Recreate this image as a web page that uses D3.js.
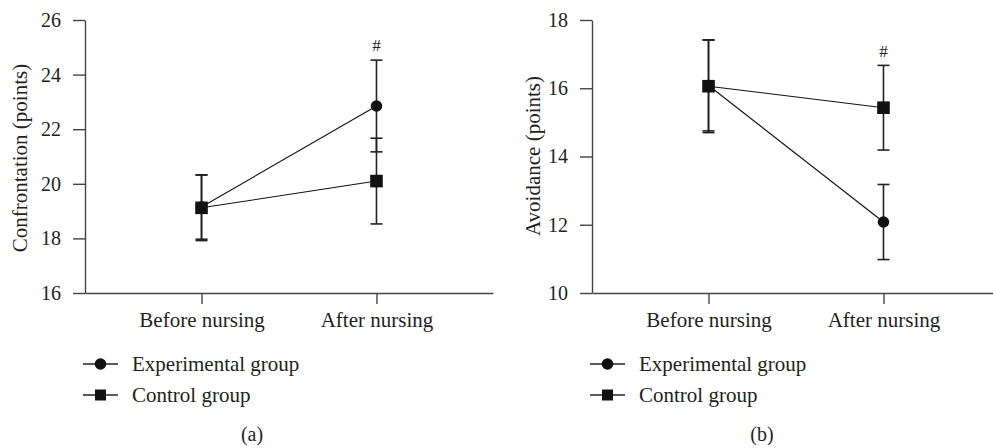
<!DOCTYPE html>
<html>
<head>
<meta charset="utf-8">
<script src="https://cdn.jsdelivr.net/npm/d3@7"></script>
<style>
  body { margin: 0; background: #fff; }
</style>
</head>
<body>
<div id="chart"></div>
<script>
// categories and values
const categories = ["Before nursing", "After nursing"];
const groups = ["Experimental group", "Control group"];

const confExpMean = [19.15, 22.85];
const confExpSd = [1.18, 1.68];
const confCtrlMean = [19.12, 20.10];
const confCtrlSd = [1.20, 1.57];

const avoidExpMean = [16.08, 12.08];
const avoidExpSd = [1.33, 1.10];
const avoidCtrlMean = [16.06, 15.43];
const avoidCtrlSd = [1.36, 1.24];

const confTicks = [16, 18, 20, 22, 24, 26];
const avoidTicks = [10, 12, 14, 16, 18];

const W = 993, H = 448;
const axisColor = "#444";
const textColor = "#231f20";
const font = "'Liberation Serif', 'DejaVu Serif', serif";

const svg = d3.select("#chart").append("svg")
    .attr("width", W)
    .attr("height", H)
    .style("font-family", font);

function styleText(sel, size) {
    sel.style("font-family", font)
       .style("font-size", size + "px")
       .attr("fill", textColor);
}

function drawPanel(opt) {
    const g = svg.append("g").attr("transform", `translate(${opt.left},0)`);
    const top = 20, bottom = 293, plotW = 408;

    const x = d3.scalePoint().domain(categories).range([0, plotW]).padding(0.666);
    const y = d3.scaleLinear().domain(opt.domain).range([bottom, top]);

    // y axis
    const yAxis = g.append("g")
        .call(d3.axisLeft(y).tickValues(opt.ticks).tickSize(12).tickSizeOuter(0).tickPadding(12));
    yAxis.attr("font-family", null);
    yAxis.select(".domain").attr("stroke", axisColor).attr("stroke-width", 1.4);
    yAxis.selectAll(".tick line").attr("stroke", axisColor).attr("stroke-width", 1.4);
    styleText(yAxis.selectAll("text"), 20);

    // x axis
    const xAxis = g.append("g")
        .attr("transform", `translate(0,${bottom})`)
        .call(d3.axisBottom(x).tickSize(11).tickSizeOuter(0).tickPadding(8));
    xAxis.attr("font-family", null);
    xAxis.select(".domain").attr("stroke", axisColor).attr("stroke-width", 1.4);
    xAxis.selectAll(".tick line").attr("stroke", axisColor).attr("stroke-width", 1.4);
    styleText(xAxis.selectAll("text"), 21);

    // y title
    g.append("text")
        .attr("transform", `translate(${opt.titleX},${opt.titleY}) rotate(-90)`)
        .attr("text-anchor", "middle")
        .attr("dy", "0.35em")
        .text(opt.title)
        .call(styleText, 21);

    const series = [
        { mean: opt.expMean, sd: opt.expSd, shape: "circle" },
        { mean: opt.ctrlMean, sd: opt.ctrlSd, shape: "square" }
    ];

    const line = d3.line().x((d, i) => x(categories[i])).y(d => y(d));

    series.forEach(s => {
        g.append("path")
            .datum(s.mean)
            .attr("fill", "none")
            .attr("stroke", "#111")
            .attr("stroke-width", 1.1)
            .attr("d", line);
    });

    // error bars
    series.forEach(s => {
        const eb = g.append("g").selectAll("g")
            .data(s.mean.map((m, i) => ({ cat: categories[i], m: m, sd: s.sd[i] })))
            .enter().append("g")
            .attr("stroke", "#222")
            .attr("stroke-width", 1.6);
        eb.append("line")
            .attr("x1", d => x(d.cat)).attr("x2", d => x(d.cat))
            .attr("y1", d => y(d.m + d.sd)).attr("y2", d => y(d.m - d.sd));
        eb.append("line")
            .attr("x1", d => x(d.cat) - 6).attr("x2", d => x(d.cat) + 6)
            .attr("y1", d => y(d.m + d.sd)).attr("y2", d => y(d.m + d.sd));
        eb.append("line")
            .attr("x1", d => x(d.cat) - 6).attr("x2", d => x(d.cat) + 6)
            .attr("y1", d => y(d.m - d.sd)).attr("y2", d => y(d.m - d.sd));
    });

    // markers
    series.forEach(s => {
        const pts = g.append("g").selectAll(".pt")
            .data(s.mean.map((m, i) => ({ cat: categories[i], m: m })))
            .enter();
        if (s.shape === "circle") {
            pts.append("circle")
                .attr("cx", d => x(d.cat)).attr("cy", d => y(d.m))
                .attr("r", 5.8).attr("fill", "#111");
        } else {
            pts.append("rect")
                .attr("x", d => x(d.cat) - 6.3).attr("y", d => y(d.m) - 6.3)
                .attr("width", 12.6).attr("height", 12.6).attr("fill", "#111");
        }
    });

    // significance mark
    g.append("text")
        .attr("x", x(categories[1]))
        .attr("y", opt.hashY)
        .attr("text-anchor", "middle")
        .text("#")
        .call(styleText, 17);

    // legend
    const legY = [364, 395];
    groups.forEach((name, i) => {
        const lg = g.append("g").attr("transform", `translate(-2,${legY[i]})`);
        lg.append("line").attr("x1", 0).attr("x2", 35).attr("y1", 0).attr("y2", 0)
            .attr("stroke", "#222").attr("stroke-width", 1.4);
        if (i === 0) {
            lg.append("circle").attr("cx", 17.5).attr("cy", 0).attr("r", 5.8).attr("fill", "#111");
        } else {
            lg.append("rect").attr("x", 12).attr("y", -5.5).attr("width", 11).attr("height", 11).attr("fill", "#111");
        }
        lg.append("text").attr("x", 49).attr("y", 0).attr("dy", "0.33em")
            .text(name)
            .call(styleText, 21);
    });

    // panel label
    svg.append("text")
        .attr("x", opt.labelX).attr("y", 441)
        .attr("text-anchor", "middle")
        .text(opt.label)
        .call(styleText, 20);
}

drawPanel({
    left: 85, domain: [16, 26], ticks: confTicks,
    title: "Confrontation (points)", titleX: -65, titleY: 158,
    expMean: confExpMean, expSd: confExpSd, ctrlMean: confCtrlMean, ctrlSd: confCtrlSd,
    hashY: 51, label: "(a)", labelX: 252
});

drawPanel({
    left: 592, domain: [10, 18], ticks: avoidTicks,
    title: "Avoidance (points)", titleX: -59, titleY: 156,
    expMean: avoidExpMean, expSd: avoidExpSd, ctrlMean: avoidCtrlMean, ctrlSd: avoidCtrlSd,
    hashY: 57, label: "(b)", labelX: 762
});
</script>
</body>
</html>
